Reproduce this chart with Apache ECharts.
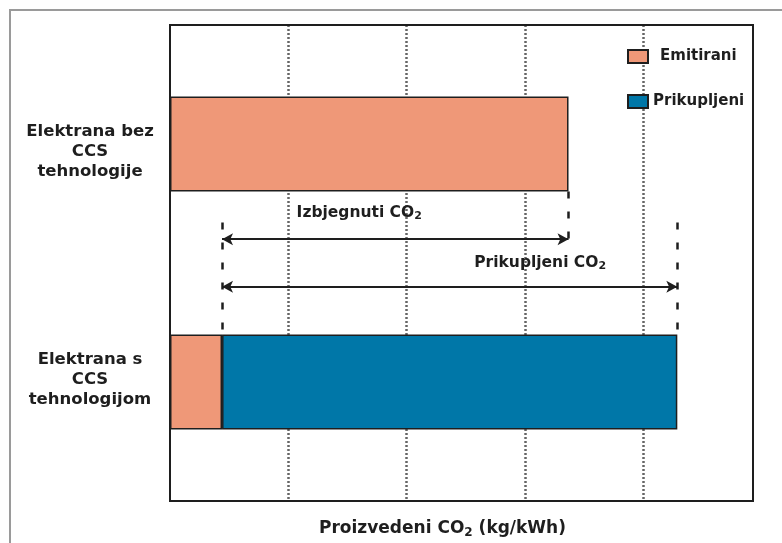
<!DOCTYPE html>
<html>
<head>
<meta charset="utf-8">
<script src="https://cdn.jsdelivr.net/npm/echarts@6/dist/echarts.min.js"></script>
<style>
	html, body {margin:0; padding:0; background:#fff;}
	#main {width:782px; height:543px;}
</style>
</head>
<body>
<div id="main"></div>
<script>
// kategorije (odozgo prema dolje)
var categories = ['Elektrana bez\nCCS\ntehnologije', 'Elektrana s\nCCS\ntehnologijom'];
// vrijednosti u kg/kWh (procijenjeno sa slike)
var emitirani = [3.37, 0.44];
var prikupljeni = ['-', 3.85];
var xMax = 4.93;

// visine strelica i oznaka na pomocnoj osi (0 = vrh, 2 = dno)
var arrowRows = [0.9, 1.1];
var labelRows = [0.79, 1.0];
var labelCols = [1.6, 3.13];

var fontFam = '"DejaVu Sans", Verdana, sans-serif';
var dark = '#1e1e1e';

var myChart = echarts.init(document.getElementById('main'));

var capturedEnd = emitirani[1] + prikupljeni[1];
var dashStyle = {color:dark, width:2.5, type:[7, 13]};
var arrowStyle = {color:dark, width:2, type:'solid'};

var catText = {fontFamily:fontFam, fontWeight:'bold', fontSize:16.5, lineHeight:20, color:dark, align:'center'};

//nazivi elektrana: prazan red gore/dolje za malo pomicanje
function catFormatter(value, index) {
	var lines = value.split('\n');
	var out = [];
	for (var i = 0; i < lines.length; i++) {
		out.push('{a|' + lines[i] + '}');
	}
	if (index == 0) {
		out.unshift('{g|}');
	} else {
		out.push('{h|}');
	}
	return out.join('\n');
}

var option = {
	animation : false,
	backgroundColor : '#fff',
	textStyle : {fontFamily:fontFam},
	graphic : [{
		type : 'polyline',
		shape : {points:[[10, 543], [10, 10], [782, 10]]},
		style : {stroke:'#9a9a9a', lineWidth:2, fill:null},
		silent : true
	}],
	grid : {
		left : 170, top : 25, right : 29, bottom : 42,
		containLabel : false,
		outerBoundsMode : 'none',
		show : true, borderColor : dark, borderWidth : 2
	},
	legend : {
		data : [
			{name:'Emitirani', textStyle:{fontFamily:fontFam, fontWeight:'bold', fontSize:15, color:dark, padding:[0, 0, 0, 7]}},
			{name:'Prikupljeni', textStyle:{fontFamily:fontFam, fontWeight:'bold', fontSize:15, color:dark, padding:[0, 0, 0, 0]}}
		],
		orient : 'vertical',
		left : 622, top : 44,
		itemWidth : 20, itemHeight : 13, itemGap : 30,
		icon : 'rect',
		textStyle : {fontFamily:fontFam, fontWeight:'bold', fontSize:15, color:dark}
	},
	xAxis : {
		type : 'value',
		min : 0, max : xMax, interval : 1,
		axisLine : {show:true, lineStyle:{color:dark, width:2}},
		axisTick : {show:false},
		axisLabel : {show:false},
		splitLine : {show:true, showMinLine:false, showMaxLine:false, lineStyle:{color:'#666', width:2.5, type:[2, 2]}},
		name : 'Proizvedeni CO{s|2} (kg/kWh)',
		nameLocation : 'middle',
		nameGap : 18,
		nameTextStyle : {
			fontFamily:fontFam, fontWeight:'bold', fontSize:17, color:dark, padding:[0, 38, 0, 0],
			rich : {s:{fontFamily:fontFam, fontWeight:'bold', fontSize:12, color:dark, verticalAlign:'bottom', padding:[8, 0, 0, 0]}}
		}
	},
	yAxis : [{
		type : 'category',
		data : categories,
		inverse : true,
		axisLine : {show:true, lineStyle:{color:dark, width:2}},
		axisTick : {show:false},
		axisLabel : {
			align:'center', margin:80, formatter:catFormatter,
			rich : {
				a : catText,
				g : {lineHeight:16, fontSize:1},
				h : {lineHeight:5, fontSize:1}
			}
		},
		splitLine : {show:false}
	}, {
		type : 'value',
		min : 0, max : 2,
		inverse : true,
		show : false
	}],
	series : [{
		name : 'Emitirani',
		type : 'bar',
		stack : 'co2',
		barWidth : '40%',
		data : emitirani,
		itemStyle : {color:'#EF9878', borderColor:dark, borderWidth:1.5}
	}, {
		name : 'Prikupljeni',
		type : 'bar',
		stack : 'co2',
		barWidth : '40%',
		data : prikupljeni,
		itemStyle : {color:'#0077A8', borderColor:dark, borderWidth:1.5}
	}, {
		name : 'oznake',
		type : 'line',
		yAxisIndex : 1,
		data : [],
		silent : true,
		markLine : {
			silent : true,
			label : {show:false},
			emphasis : {disabled:true},
			data : [
				// isprekidane okomite linije
				[{coord:[emitirani[1], 0.83], symbol:'none', lineStyle:dashStyle}, {coord:[emitirani[1], 1.3], symbol:'none'}],
				[{coord:[emitirani[0], 0.7], symbol:'none', lineStyle:dashStyle}, {coord:[emitirani[0], 0.91], symbol:'none'}],
				[{coord:[capturedEnd, 0.83], symbol:'none', lineStyle:dashStyle}, {coord:[capturedEnd, 1.3], symbol:'none'}],
				// strelice
				[{coord:[emitirani[1], arrowRows[0]], symbol:'arrow', symbolSize:[9, 11], lineStyle:arrowStyle}, {coord:[emitirani[0], arrowRows[0]], symbol:'arrow', symbolSize:[9, 11]}],
				[{coord:[emitirani[1], arrowRows[1]], symbol:'arrow', symbolSize:[9, 11], lineStyle:arrowStyle}, {coord:[capturedEnd, arrowRows[1]], symbol:'arrow', symbolSize:[9, 11]}]
			]
		},
		markPoint : {
			silent : true,
			symbol : 'circle',
			symbolSize : 0,
			label : {
				show : true,
				position : 'inside',
				fontFamily : fontFam, fontWeight : 'bold', fontSize : 15.5, color : dark,
				rich : {s:{fontFamily:fontFam, fontWeight:'bold', fontSize:11, color:dark, verticalAlign:'bottom', padding:[7, 0, 0, 0]}}
			},
			data : [
				{coord:[labelCols[0], labelRows[0]], label:{formatter:'Izbjegnuti CO{s|2}'}},
				{coord:[labelCols[1], labelRows[1]], label:{formatter:'Prikupljeni CO{s|2}'}}
			]
		}
	}]
};
myChart.setOption(option);
</script>
</body>
</html>
